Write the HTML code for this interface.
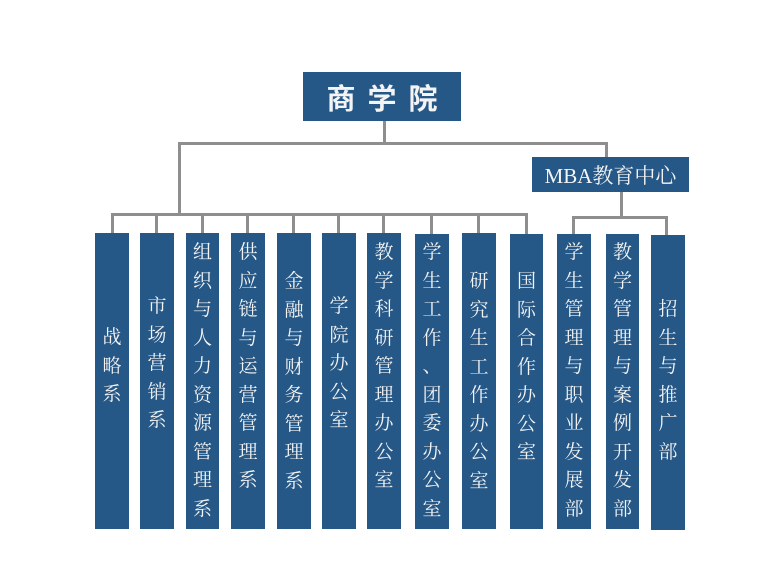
<!DOCTYPE html>
<html><head><meta charset="utf-8"><style>
body{margin:0;width:784px;height:564px;background:#fff;position:relative;overflow:hidden;font-family:"Liberation Serif","Noto Serif CJK SC",serif}
.b{position:absolute;background:#265887;color:#f4f4f4}
.l{position:absolute;background:#8e8e8e}
.c{display:flex;flex-direction:column;align-items:center;justify-content:flex-start;font-size:19px;line-height:28.5px;box-sizing:border-box}
</style></head><body>
<div class="b" style="left:303px;top:72px;width:158px;height:49px;font-size:29px;font-weight:bold;display:flex;align-items:center;justify-content:center;letter-spacing:12px;padding-left:12px;box-sizing:border-box;font-family:'Noto Sans CJK SC',sans-serif">商学院</div>
<div class="b" style="left:532px;top:157px;width:157px;height:35px;font-size:21px;display:flex;align-items:center;justify-content:center">MBA教育中心</div>
<div class="l" style="left:383px;top:121px;width:3px;height:23px"></div>
<div class="l" style="left:178px;top:142px;width:430px;height:3px"></div>
<div class="l" style="left:605px;top:142px;width:3px;height:15px"></div>
<div class="l" style="left:178px;top:142px;width:3px;height:73px"></div>
<div class="l" style="left:111px;top:213px;width:417px;height:3px"></div>
<div class="l" style="left:620px;top:192px;width:3px;height:26px"></div>
<div class="l" style="left:572px;top:216px;width:96px;height:3px"></div>
<div class="l" style="left:572px;top:216px;width:3px;height:19px"></div>
<div class="l" style="left:665px;top:216px;width:3px;height:19px"></div>
<div class="l" style="left:111px;top:213px;width:3px;height:20px"></div>
<div class="l" style="left:155px;top:213px;width:3px;height:20px"></div>
<div class="l" style="left:201px;top:213px;width:3px;height:20px"></div>
<div class="l" style="left:246px;top:213px;width:3px;height:20px"></div>
<div class="l" style="left:292px;top:213px;width:3px;height:20px"></div>
<div class="l" style="left:337px;top:213px;width:3px;height:20px"></div>
<div class="l" style="left:382px;top:213px;width:3px;height:20px"></div>
<div class="l" style="left:430px;top:213px;width:3px;height:21px"></div>
<div class="l" style="left:477px;top:213px;width:3px;height:20px"></div>
<div class="l" style="left:525px;top:213px;width:3px;height:21px"></div>
<div class="b c" style="left:95px;top:233px;width:34px;height:296px;padding-top:91px"><span>战</span><span>略</span><span>系</span></div>
<div class="b c" style="left:140px;top:233px;width:34px;height:296px;padding-top:60px"><span>市</span><span>场</span><span>营</span><span>销</span><span>系</span></div>
<div class="b c" style="left:186px;top:233px;width:33px;height:296px;padding-top:6px"><span>组</span><span>织</span><span>与</span><span>人</span><span>力</span><span>资</span><span>源</span><span>管</span><span>理</span><span>系</span></div>
<div class="b c" style="left:231px;top:233px;width:34px;height:296px;padding-top:6px"><span>供</span><span>应</span><span>链</span><span>与</span><span>运</span><span>营</span><span>管</span><span>理</span><span>系</span></div>
<div class="b c" style="left:277px;top:233px;width:34px;height:296px;padding-top:35px"><span>金</span><span>融</span><span>与</span><span>财</span><span>务</span><span>管</span><span>理</span><span>系</span></div>
<div class="b c" style="left:322px;top:233px;width:34px;height:296px;padding-top:60px"><span>学</span><span>院</span><span>办</span><span>公</span><span>室</span></div>
<div class="b c" style="left:367px;top:233px;width:34px;height:296px;padding-top:6px"><span>教</span><span>学</span><span>科</span><span>研</span><span>管</span><span>理</span><span>办</span><span>公</span><span>室</span></div>
<div class="b c" style="left:415px;top:234px;width:34px;height:295px;padding-top:5px"><span>学</span><span>生</span><span>工</span><span>作</span><span>、</span><span>团</span><span>委</span><span>办</span><span>公</span><span>室</span></div>
<div class="b c" style="left:462px;top:233px;width:34px;height:296px;padding-top:35px"><span>研</span><span>究</span><span>生</span><span>工</span><span>作</span><span>办</span><span>公</span><span>室</span></div>
<div class="b c" style="left:510px;top:234px;width:33px;height:295px;padding-top:34px"><span>国</span><span>际</span><span>合</span><span>作</span><span>办</span><span>公</span><span>室</span></div>
<div class="b c" style="left:557px;top:234px;width:34px;height:295px;padding-top:5px"><span>学</span><span>生</span><span>管</span><span>理</span><span>与</span><span>职</span><span>业</span><span>发</span><span>展</span><span>部</span></div>
<div class="b c" style="left:606px;top:234px;width:33px;height:295px;padding-top:5px"><span>教</span><span>学</span><span>管</span><span>理</span><span>与</span><span>案</span><span>例</span><span>开</span><span>发</span><span>部</span></div>
<div class="b c" style="left:651px;top:235px;width:34px;height:295px;padding-top:61px"><span>招</span><span>生</span><span>与</span><span>推</span><span>广</span><span>部</span></div>
</body></html>
